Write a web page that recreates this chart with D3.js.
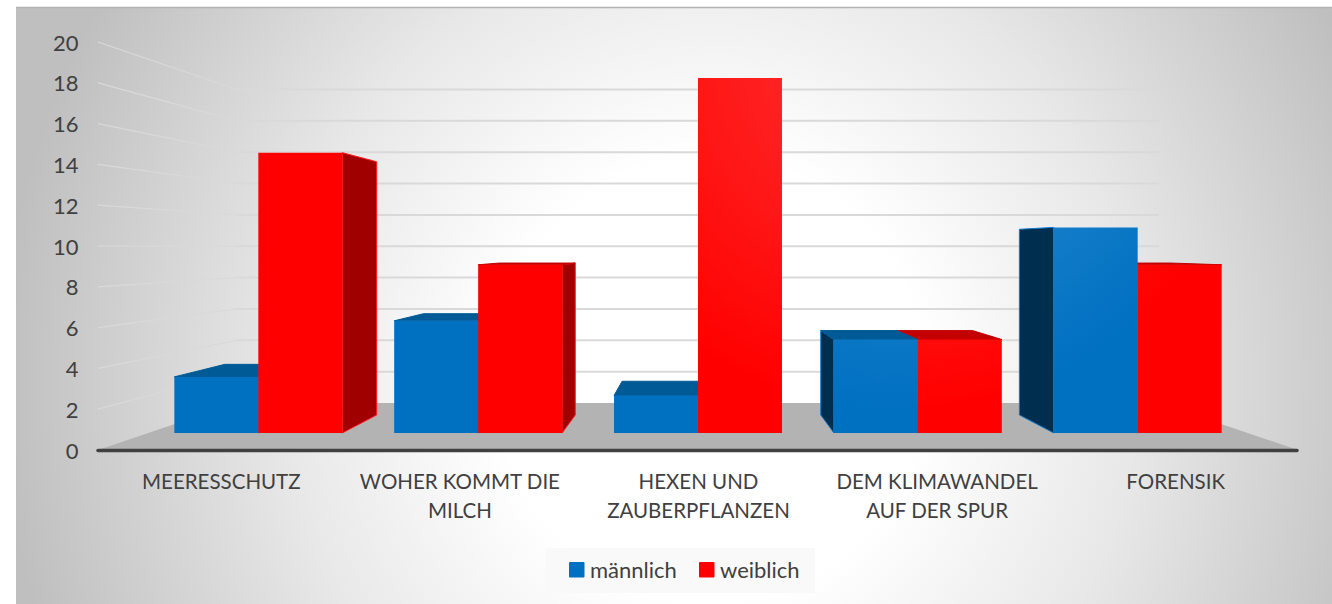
<!DOCTYPE html>
<html lang="de">
<head>
<meta charset="utf-8">
<script src="https://cdn.jsdelivr.net/npm/d3@7"></script>
<style>
  html, body { margin: 0; padding: 0; background: #fff; overflow: hidden; }
  text { font-family: Lato, "Open Sans", sans-serif; fill: #404040; }
</style>
</head>
<body>
<div id="chart"></div>
<script>
const categories = ["MEERESSCHUTZ", "WOHER KOMMT DIE MILCH", "HEXEN UND ZAUBERPFLANZEN", "DEM KLIMAWANDEL AUF DER SPUR", "FORENSIK"];
const seriesNames = ["männlich", "weiblich"];
const maennlich = [3, 6, 2, 5, 11];
const weiblich = [15, 9, 19, 5, 9];
const yTicks = [0, 2, 4, 6, 8, 10, 12, 14, 16, 18, 20];

const width = 1332, height = 604;
const colors = {
  "männlich": { front: "#0070c0", top: "#005a96", side: "#002e4f", edge: "#0a7ad0", glow: "#7fc4ff", glowMix: 0.42 },
  "weiblich": { front: "#ff0000", top: "#c40000", side: "#a00000", edge: "#ff1a1a", glow: "#ffffff", glowMix: 0.2 }
};

const svg = d3.select("#chart").append("svg")
  .attr("width", width)
  .attr("height", height)
  .style("display", "block");

const defs = svg.append("defs");

// Chart background: radial, white in the middle, stretched upright
const bg = defs.append("radialGradient").attr("id", "bg")
  .attr("gradientUnits", "userSpaceOnUse")
  .attr("cx", 0).attr("cy", 0).attr("r", 1)
  .attr("gradientTransform", "translate(710,380) scale(710,740)");
bg.append("stop").attr("offset", "30%").attr("stop-color", "#ffffff");
bg.append("stop").attr("offset", "60%").attr("stop-color", "#e8e8e8");
bg.append("stop").attr("offset", "100%").attr("stop-color", "#bfbfbf");

// Soft highlight on the front faces, upper right of the plot
seriesNames.forEach((name, i) => {
  const g = defs.append("radialGradient").attr("id", "front" + i)
    .attr("gradientUnits", "userSpaceOnUse")
    .attr("cx", 900).attr("cy", 50).attr("r", 360);
  g.append("stop").attr("offset", "0%").attr("stop-color", d3.interpolateRgb(colors[name].front, colors[name].glow)(colors[name].glowMix));
  g.append("stop").attr("offset", "100%").attr("stop-color", colors[name].front);
});

svg.append("rect")
  .attr("x", 16).attr("y", 8)
  .attr("width", width - 16).attr("height", height - 8)
  .attr("fill", "url(#bg)");
svg.append("line")
  .attr("x1", 16).attr("x2", width)
  .attr("y1", 7.5).attr("y2", 7.5)
  .attr("stroke", "#b4b4b4").attr("stroke-width", 1.5);

// ==== Scales (front plane of the box, then perspective towards vp) ====
const vp = { x: 698, y: 247 };
const depth = { front: 1, barFront: 0.916, barBack: 0.8276, back: 0.7685 };

const y = d3.scaleLinear().domain([0, 20]).range([450, 42]);
const x0 = d3.scaleBand().domain(categories).range([98, 1298]).paddingInner(0.236).paddingOuter(0.118);
const x1 = d3.scaleBand().domain(seriesNames).range([0, x0.bandwidth()]);

const project = (px, v, s) => [vp.x + s * (px - vp.x), vp.y + s * (y(v) - vp.y)];
const poly = d3.line();
const closed = pts => poly(pts) + "Z";

// ==== Walls ====
const [xMin, xMax] = x0.range();
const grid = svg.append("g").attr("fill", "none");

yTicks.filter(v => v > 0).forEach(v => {
  grid.append("path")
    .attr("d", poly([project(xMin, v, depth.front), project(xMin, v, depth.back)]))
    .attr("stroke", "#d9d9d9").attr("stroke-width", 1.2);
  grid.append("path")
    .attr("d", poly([project(xMin, v, depth.back), project(xMax, v, depth.back)]))
    .attr("stroke", "#d9d9d9").attr("stroke-width", 2);
});

svg.append("path")
  .attr("d", closed([
    project(xMin, 0, depth.front),
    project(xMin, 0, depth.back),
    project(xMax, 0, depth.back),
    project(xMax, 0, depth.front)
  ]))
  .attr("fill", "#b3b3b3");

svg.append("line")
  .attr("x1", xMin).attr("x2", xMax - 1)
  .attr("y1", y(0) + 0.5).attr("y2", y(0) + 0.5)
  .attr("stroke", "#404040").attr("stroke-width", 3.5)
  .attr("stroke-linecap", "round");

// ==== Bars ====
function drawBar(cat, name, value) {
  const c = colors[name];
  const left = x0(cat) + x1(name);
  const right = left + x1.bandwidth();
  const g = svg.append("g").attr("class", "bar");

  const face = (pts, fill, edge) => g.append("path")
    .attr("d", closed(pts))
    .attr("fill", fill)
    .attr("stroke", edge)
    .attr("stroke-width", 1)
    .attr("stroke-linejoin", "round");

  if (left > vp.x) {
    face([project(left, 0, depth.barFront), project(left, value, depth.barFront),
          project(left, value, depth.barBack), project(left, 0, depth.barBack)], c.side, c.edge);
  }
  if (right < vp.x) {
    face([project(right, 0, depth.barFront), project(right, value, depth.barFront),
          project(right, value, depth.barBack), project(right, 0, depth.barBack)], c.side, c.edge);
  }
  if (y(value) > vp.y) {
    face([project(left, value, depth.barFront), project(right, value, depth.barFront),
          project(right, value, depth.barBack), project(left, value, depth.barBack)], c.top, c.top);
  }
  face([project(left, 0, depth.barFront), project(right, 0, depth.barFront),
        project(right, value, depth.barFront), project(left, value, depth.barFront)],
       `url(#front${seriesNames.indexOf(name)})`, "none");
}

categories.forEach((cat, i) => {
  const pair = [[seriesNames[0], maennlich[i]], [seriesNames[1], weiblich[i]]];
  // right of the vanishing point the red bar lies behind the blue one
  if (i > 2) pair.reverse();
  pair.forEach(([name, value]) => drawBar(cat, name, value));
});

// ==== Axes ====
const yAxis = svg.append("g")
  .attr("transform", "translate(78.5,1)")
  .call(d3.axisLeft(y).tickValues(yTicks).tickSize(0).tickPadding(0));
yAxis.select(".domain").remove();
yAxis.selectAll("text").style("font-size", "22px").style("font-family", "Lato, sans-serif");

const xLabel = d3.scaleBand().domain(categories).range([102, 1295]);
const xAxis = svg.append("g")
  .attr("transform", "translate(0,470)")
  .call(d3.axisBottom(xLabel).tickSize(0).tickPadding(0));
xAxis.select(".domain").remove();
xAxis.selectAll("text")
  .style("font-size", "20.5px")
  .style("font-family", "Lato, sans-serif")
  .call(wrap, 225);

function wrap(sel, maxW) {
  sel.each(function () {
    const t = d3.select(this);
    const words = t.text().split(" ");
    t.text(null);
    let line = [];
    let tspan = t.append("tspan").attr("x", 0).attr("y", 19);
    let row = 0;
    words.forEach(w => {
      line.push(w);
      tspan.text(line.join(" "));
      if (tspan.node().getComputedTextLength() > maxW && line.length > 1) {
        line.pop();
        tspan.text(line.join(" "));
        line = [w];
        row += 1;
        tspan = t.append("tspan").attr("x", 0).attr("y", 19 + row * 29).text(w);
      }
    });
    t.attr("dy", null);
  });
}

// ==== Legend ====
svg.append("rect")
  .attr("x", 546).attr("y", 548)
  .attr("width", 269).attr("height", 45)
  .attr("fill", "#f9f9f9");

const legendX = d3.scalePoint().domain(seriesNames).range([569, 699]);
const items = svg.selectAll(".legend-item")
  .data(seriesNames)
  .enter().append("g")
  .attr("class", "legend-item")
  .attr("transform", d => `translate(${legendX(d)},562)`);

items.append("rect")
  .attr("width", 15.5).attr("height", 15.5)
  .attr("rx", 1)
  .attr("fill", d => colors[d].front);

items.append("text")
  .attr("x", 21).attr("y", 16)
  .style("font-size", "22px")
  .text(d => d);
</script>
</body>
</html>
